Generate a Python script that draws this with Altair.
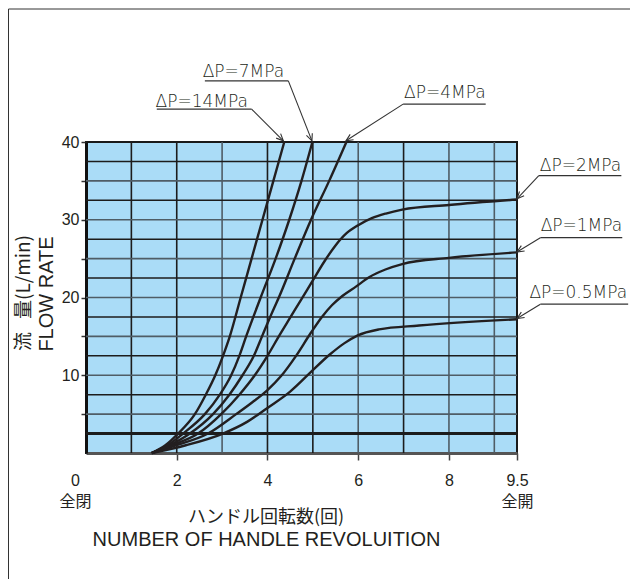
import math
import altair as alt
import pandas as pd

# ---------------- data ----------------
x_ticks = [0, 2, 4, 6, 8, 9.5]
y_ticks = [5, 10, 15, 20, 25, 30, 35, 40]
grid_x = [1, 2, 3, 4, 5, 6, 7, 8, 9]
grid_y = [2.5, 5, 7.5, 10, 12.5, 15, 17.5, 20, 22.5, 25, 27.5, 30, 32.5, 35, 37.5]

x_14 = [1.45, 1.75, 2.03, 2.40, 2.64, 2.85, 3.02, 3.17, 3.41, 3.65, 3.89, 4.13, 4.37]
y_14 = [0, 1.0, 2.5, 5.0, 7.5, 10.0, 12.5, 15.0, 20.0, 25.0, 30.0, 35.0, 40.0]

x_7 = [1.45, 1.80, 2.14, 2.62, 2.95, 3.20, 3.38, 3.53, 3.85, 4.18, 4.48, 4.75, 4.99]
y_7 = [0, 1.0, 2.5, 5.0, 7.5, 10.0, 12.5, 15.0, 20.0, 25.0, 30.0, 35.0, 40.0]

x_4 = [1.45, 1.85, 2.29, 2.80, 3.16, 3.45, 3.70, 3.88, 4.06, 4.25, 4.60, 4.96, 5.36, 5.74]
y_4 = [0, 1.0, 2.5, 5.0, 7.5, 10.0, 12.5, 15.0, 17.5, 20.0, 25.0, 30.0, 35.0, 40.0]

x_2 = [1.45, 1.90, 2.47, 2.98, 3.38, 3.72, 4.00, 4.25, 4.50, 4.75, 5.00, 5.25, 5.50, 5.75, 6.00, 6.30, 6.61, 6.97, 8.00, 9.50]
y_2 = [0, 1.0, 2.5, 5.0, 7.5, 10.0, 12.5, 15.0, 17.4, 19.8, 22.2, 24.6, 26.7, 28.3, 29.3, 30.2, 30.8, 31.3, 31.9, 32.6]

x_1 = [1.45, 2.00, 2.69, 3.31, 3.66, 4.00, 4.30, 4.63, 4.95, 5.20, 5.42, 5.65, 5.95, 6.24, 6.60, 6.97, 8.00, 9.50]
y_1 = [0, 1.0, 2.5, 5.0, 6.5, 8.1, 9.9, 12.5, 15.4, 17.5, 19.0, 20.2, 21.4, 22.6, 23.6, 24.3, 25.1, 25.8]

x_05 = [1.45, 2.20, 3.02, 3.55, 4.00, 4.50, 4.92, 5.36, 5.69, 5.98, 6.46, 7.34, 9.50]
y_05 = [0, 1.0, 2.5, 4.0, 5.8, 7.9, 10.2, 12.6, 14.1, 15.1, 15.9, 16.4, 17.2]

series_names = ["14MPa", "7MPa", "4MPa", "2MPa", "1MPa", "0.5MPa"]
series_x = [x_14, x_7, x_4, x_2, x_1, x_05]
series_y = [y_14, y_7, y_4, y_2, y_1, y_05]

labels = ["ΔP=14MPa", "ΔP=7MPa", "ΔP=4MPa", "ΔP=2MPa", "ΔP=1MPa", "ΔP=0.5MPa"]
label_x = [2.55, 3.47, 7.91, 10.90, 10.92, 10.85]
label_y = [45.17, 49.0, 46.32, 36.96, 29.14, 20.55]
under_x1 = [1.56, 2.62, 6.99, 9.98, 10.015, 10.015]
under_x2 = [3.65, 4.46, 8.81, 11.80, 11.82, 11.95]
under_y = [44.23, 47.86, 44.87, 35.68, 27.69, 19.14]
lead_x = [3.65, 4.46, 6.99, 9.98, 10.015, 10.015]
lead_y = [44.23, 47.86, 44.87, 35.68, 27.69, 19.14]
tip_x = [4.35, 4.98, 5.73, 9.50, 9.50, 9.50]
tip_y = [40.15, 40.15, 40.15, 32.7, 25.85, 17.3]

# ---------------- layout ----------------
W, H = 431, 311
X_DOM = [0, 9.5]
Y_DOM = [0, 40]
kx = W / (X_DOM[1] - X_DOM[0])
ky = H / (Y_DOM[1] - Y_DOM[0])

INK = "#231f20"
FONT = "Liberation Sans, Noto Sans CJK JP"

xs = alt.Scale(domain=X_DOM, nice=False, zero=False)
ys = alt.Scale(domain=Y_DOM, nice=False, zero=False)

rows = []
for name, xv, yv in zip(series_names, series_x, series_y):
    for i, (a, b) in enumerate(zip(xv, yv)):
        rows.append({"series": name, "i": i, "x": a, "y": b})
curves_df = pd.DataFrame(rows)

angles = []
for sx, sy, tx, ty in zip(lead_x, lead_y, tip_x, tip_y):
    dx = (tx - sx) * kx
    dy = -(ty - sy) * ky
    angles.append(math.degrees(math.atan2(dy, dx)) % 360)

ann = pd.DataFrame({
    "label": labels, "lx": label_x, "ly": label_y,
    "ux1": under_x1, "ux2": under_x2, "uy": under_y,
    "sx": lead_x, "sy": lead_y, "tx": tip_x, "ty": tip_y, "ang": angles,
})

x_axis = alt.Axis(
    values=x_ticks, title=None, grid=False,
    domainColor="#555555", domainWidth=3,
    tickColor="#444444", tickWidth=1.5, tickSize=7,
    tickOpacity={"condition": {"test": "datum.value === 0", "value": 0}, "value": 1},
    labelExpr="datum.value === 0 ? ['0', '全閉'] : (datum.value === 9.5 ? ['9.5', '全開'] : '' + datum.value)",
    labelFont=FONT, labelFontSize=16, labelColor=INK, labelLineHeight=21,
    labelPadding=12, labelBaseline="top",
    labelOffset={"condition": {"test": "datum.value === 0", "value": -11}, "value": 0},
    labelFlush=False, labelOverlap=False, labelBound=False,
)
y_axis = alt.Axis(
    values=y_ticks, title=None, grid=False,
    domainColor="#111111", domainWidth=3,
    tickColor="#333333", tickWidth=1.5, tickSize=5,
    labelExpr="datum.value % 10 === 0 ? '' + datum.value : ''",
    labelFont=FONT, labelFontSize=16, labelColor=INK, labelPadding=2,
    labelOverlap=False, labelBound=False,
)


def X(field):
    return alt.X(field, scale=xs, axis=x_axis)


def Y(field):
    return alt.Y(field, scale=ys, axis=y_axis)


gv = alt.Chart(pd.DataFrame({"gx": grid_x})).mark_rule().encode(
    x=X("gx:Q"),
    color=alt.condition("indexof([3,6,8,9], datum.gx) >= 0", alt.value("#4f5d66"), alt.value("#1c1c1c")),
    strokeWidth=alt.value(1.6),
)
gh = alt.Chart(pd.DataFrame({"gy": grid_y})).mark_rule().encode(
    y=Y("gy:Q"),
    color=alt.condition("datum.gy % 5 === 0", alt.value("#4f5d66"), alt.value("#1c1c1c")),
    strokeWidth=alt.condition("datum.gy === 2.5", alt.value(3), alt.value(1.6)),
)

curves = alt.Chart(curves_df).mark_line(interpolate="monotone", color=INK, strokeWidth=2.4).encode(
    x=X("x:Q"), y=Y("y:Q"), detail="series:N", order="i:Q",
)

txt = alt.Chart(ann).mark_text(font="DejaVu Sans", fontWeight=200, fontSize=17, color=INK,
                               align="center", baseline="middle").encode(
    x=X("lx:Q"), y=Y("ly:Q"), text="label:N")
under = alt.Chart(ann).mark_rule(color="#333333", strokeWidth=1.3).encode(
    x=X("ux1:Q"), x2="ux2:Q", y=Y("uy:Q"))
leader = alt.Chart(ann).mark_rule(color="#333333", strokeWidth=1.1).encode(
    x=X("sx:Q"), y=Y("sy:Q"), x2="tx:Q", y2="ty:Q")
heads = alt.Chart(ann).mark_point(shape="M-1,-0.45L0,0L-1,0.45", size=196, filled=False,
                                  stroke="#333333", strokeWidth=1.1, opacity=1).encode(
    x=X("tx:Q"), y=Y("ty:Q"), angle=alt.Angle("ang:Q", scale=None))

one = pd.DataFrame({"k": [0]})
ytitle1a = alt.Chart(one).mark_text(text="流", font="Noto Sans CJK JP", fontSize=19, color=INK,
                                    angle=270, align="center", baseline="middle").encode(
    x=alt.value(-62), y=alt.value(199.5))
ytitle1b = alt.Chart(one).mark_text(text="量(L/min)", font="Noto Sans CJK JP", fontSize=19, color=INK,
                                    angle=270, align="center", baseline="middle").encode(
    x=alt.value(-62), y=alt.value(135))
ytitle2 = alt.Chart(one).mark_text(text="FLOW RATE", font="Liberation Sans", fontSize=20, color=INK,
                                   angle=270, align="center", baseline="middle").encode(
    x=alt.value(-39), y=alt.value(152))
xtitle1 = alt.Chart(one).mark_text(text="ハンドル回転数(回)", font="Noto Sans CJK JP", fontSize=18, color=INK,
                                   align="center", baseline="middle").encode(
    x=alt.value(180), y=alt.value(376))
xtitle2 = alt.Chart(one).mark_text(text="NUMBER OF HANDLE REVOLUITION", font="Liberation Sans", fontSize=20,
                                   color=INK, align="center", baseline="middle").encode(
    x=alt.value(180.5), y=alt.value(398))

frame_l = alt.Chart(one).mark_rule(color="#333333", strokeWidth=1).encode(
    x=alt.value(-77.5), y=alt.value(-133), y2=alt.value(437))
frame_t = alt.Chart(one).mark_rule(color="#333333", strokeWidth=1).encode(
    x=alt.value(-77.5), x2=alt.value(544), y=alt.value(-133))

chart = alt.layer(
    gv, gh, curves, under, leader, heads, txt,
    ytitle1a, ytitle1b, ytitle2, xtitle1, xtitle2, frame_l, frame_t,
).properties(
    width=W, height=H,
    autosize=alt.AutoSizeParams(type="none"),
    padding={"left": 78, "top": 134, "right": 113, "bottom": 126},
).configure(background="white").configure_view(
    fill="#aadcf7", stroke="#1a1a1a", strokeWidth=2,
)

chart.save("out.html", embed_options={"renderer": "svg", "actions": False})
